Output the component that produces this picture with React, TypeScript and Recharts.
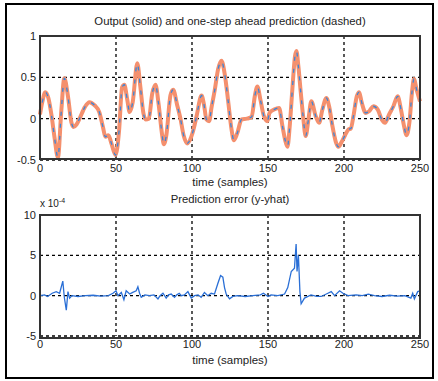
import { CartesianGrid, Line, LineChart, XAxis, YAxis } from "recharts";

// sample index and measured output y (solid) / one-step prediction (dashed, visually identical)
const outT = [
  0, 1.5, 3.5, 5.5, 7.5, 9.5, 11.8, 14, 16, 18.4, 20.6, 22, 24, 26, 29.5, 32.5, 36, 39, 41.4, 43, 45,
  47, 49.7, 52, 54, 55.5, 57.4, 59, 61, 64, 66, 68, 69.5, 71.6, 73.8, 76, 78, 80.3, 81.5, 83.2, 85.8,
  87.6, 90.3, 92.4, 94.6, 96.8, 99.5, 101, 103, 106.3, 107.8, 109.5, 111.3, 112.8, 115, 117.2, 119.4,
  121.6, 123.8, 126, 127.5, 129.7, 132.6, 136, 139.2, 141.4, 143, 145, 147.3, 149.6, 151, 154, 157.3,
  159.5, 161.3, 162.8, 164.3, 166, 167.8, 168.7, 170, 171.6, 173.1, 174.8, 176.6, 178.5, 181.4, 183.6,
  185.8, 188.4, 190.2, 192.4, 194.6, 196.3, 198.5, 200.7, 203, 204.5, 206.2, 208.4, 210, 211.6, 214.3,
  216.5, 219.3, 222.2, 224.8, 227, 229.6, 232.5, 235.3, 237.5, 239.5, 241.2, 243, 244.9, 246, 247.8, 250,
];
const outY = [
  0.05, 0.2, 0.32, 0.25, 0.05, -0.22, -0.47, 0.09, 0.49, 0.27, -0.04, -0.1, -0.07, 0.0, 0.14, 0.2, 0.16,
  0.08, -0.1, -0.22, -0.2, -0.3, -0.44, -0.15, 0.38, 0.41, 0.23, 0.08, 0.2, 0.67, 0.39, 0.07, -0.01, 0.0,
  0.3, 0.41, 0.18, -0.19, -0.31, -0.19, 0.28, 0.35, 0.16, 0.0, -0.21, -0.3, -0.22, -0.13, 0.03, 0.28,
  0.18, -0.01, -0.03, 0.13, 0.35, 0.6, 0.7, 0.53, 0.21, -0.13, -0.26, -0.18, -0.01, 0.0, 0.02, 0.28,
  0.39, 0.23, 0.03, -0.03, 0.07, 0.11, 0.13, -0.09, -0.26, -0.34, -0.09, 0.35, 0.76, 0.82, 0.63, 0.31,
  0.03, -0.21, -0.01, 0.21, 0.03, -0.05, 0.11, 0.25, 0.15, -0.09, -0.28, -0.34, -0.28, -0.2, -0.13,
  -0.12, 0.03, 0.27, 0.32, 0.2, 0.07, 0.09, 0.15, 0.11, -0.01, -0.05, 0.05, 0.15, 0.27, 0.11, -0.09,
  -0.2, -0.05, 0.35, 0.48, 0.35, 0.21,
];

// prediction error, in units of 1e-4
const errT = [
  0, 3, 5, 8, 10.7, 12.9, 15, 16, 17.3, 18.4, 19.5, 21, 25, 30, 35, 40, 45, 48, 50, 51.3, 53.5, 55.2,
  56.7, 59, 61, 63.3, 64.4, 65.5, 66.6, 69, 72, 75, 77.6, 79, 80.9, 83, 84.5, 86.3, 88.5, 90, 91.6, 93,
  95, 97.3, 99.5, 101.7, 104, 106, 108.2, 110.4, 112.6, 114.8, 117, 118.8, 120.3, 121.4, 122.5, 124.7,
  126.9, 130, 135, 140, 145, 147, 150, 152, 156.5, 160.9, 163, 165.3, 167.4, 168.5, 169.1, 170, 171,
  171.8, 174, 178.3, 182, 185, 189.4, 191.6, 193.8, 197.1, 199.3, 202.6, 208, 212, 216, 220, 225, 230,
  235, 240, 244, 245.2, 246.3, 248.5, 250,
];
const errY = [
  0, 0.1, -0.1, 0.3, 0.5, 0.3, 1.8, -0.2, -1.8, 0.5, -0.3, 0, -0.1, 0, 0.05, -0.05, 0, 0.3, 0.6, 0, 0.4,
  -0.5, 0.6, 0.2, 0.4, 0.6, 1.1, 0.3, -0.2, 0.1, 0, 0.1, -0.4, 0, 0.3, -0.3, 0.1, 0.2, -0.2, 0.1, 0.3, 0,
  0.1, 0.5, -0.3, 0, 0.1, -0.2, 0.4, 0, 0.3, 0.2, 1.5, 2.5, 2.3, 1.0, 0.2, -0.4, -0.1, 0, -0.1, 0, 0.1,
  0.3, -0.1, 0.1, 0, 0.2, 1.0, 3.0, 3.4, 6.4, 3, 5, 0.5, -1.0, -0.3, 0.1, -0.1, -0.1, 0.3, 0.5, 0, 0.6,
  0.3, 0, 0.1, 0, 0.2, 0, -0.1, 0.05, -0.05, 0, -0.3, 0.3, -0.4, 0.5, 0.6,
];

const xTicks = [0, 50, 100, 150, 200, 250];
const topTicks = [-0.5, 0, 0.5, 1];
const botTicks = [-5, 0, 5, 10];

const outData = outT.map((t, i) => ({ t, y: outY[i] }));
const errData = errT.map((t, i) => ({ t, e: errY[i] }));

const font = "'Liberation Sans', Arial, sans-serif";
const tickStyle = { fontSize: 11, fill: "#222", fontFamily: font };

const abs = (left: number, top: number, extra: object = {}) => ({
  position: "absolute" as const,
  left,
  top,
  ...extra,
});

function Frame({ top }: { top: number }) {
  return (
    <div
      style={abs(39, top - 1, {
        width: 382,
        height: 125,
        border: "2px solid #333",
        boxSizing: "border-box",
        pointerEvents: "none",
      })}
    />
  );
}

export default function App() {
  return (
    <div
      style={{
        position: "absolute",
        left: 0,
        top: 0,
        width: 438,
        height: 381,
        background: "#fff",
        fontFamily: font,
        color: "#222",
      }}
    >
      <div
        style={abs(5, 3, {
          width: 429,
          height: 376,
          border: "2px solid #000",
          boxSizing: "border-box",
        })}
      />

      <div style={abs(0, 15, { width: 460, textAlign: "center", fontSize: 11.3 })}>
        Output (solid) and one-step ahead prediction (dashed)
      </div>
      <div style={abs(0, 0)}>
        <LineChart
          width={438}
          height={190}
          data={outData}
          margin={{ top: 36, right: 18, left: 10, bottom: 0 }}
        >
          <CartesianGrid stroke="#000" strokeDasharray="3 3" strokeWidth={1.3} />
          <XAxis
            dataKey="t"
            type="number"
            domain={[0, 250]}
            ticks={xTicks}
            height={30}
            tickSize={0}
            tickMargin={4}
            axisLine={false}
            tick={tickStyle}
          />
          <YAxis
            type="number"
            domain={[-0.5, 1]}
            ticks={topTicks}
            width={30}
            tickSize={0}
            tickMargin={4}
            axisLine={false}
            allowDataOverflow
            tick={tickStyle}
          />
          <Line
            dataKey="y"
            type="monotone"
            stroke="#F4906E"
            strokeWidth={4}
            dot={false}
            isAnimationActive={false}
          />
          <Line
            dataKey="y"
            type="monotone"
            stroke="#3A86DA"
            strokeWidth={1.3}
            strokeDasharray="4 8"
            dot={false}
            isAnimationActive={false}
          />
        </LineChart>
      </div>
      <div style={abs(0, 176, { width: 460, textAlign: "center", fontSize: 11.5 })}>
        time (samples)
      </div>

      <div style={abs(0, 193, { width: 460, textAlign: "center", fontSize: 11.3 })}>
        Prediction error (y-yhat)
      </div>
      <div style={abs(40, 197, { fontSize: 10 })}>
        x 10<sup style={{ fontSize: 7 }}>-4</sup>
      </div>
      <div style={abs(0, 190)}>
        <LineChart
          width={438}
          height={176}
          data={errData}
          margin={{ top: 25, right: 18, left: 10, bottom: 0 }}
        >
          <CartesianGrid stroke="#000" strokeDasharray="3 3" strokeWidth={1.3} />
          <XAxis
            dataKey="t"
            type="number"
            domain={[0, 250]}
            ticks={xTicks}
            height={30}
            tickSize={0}
            tickMargin={4}
            axisLine={false}
            tick={tickStyle}
          />
          <YAxis
            type="number"
            domain={[-5, 10]}
            ticks={botTicks}
            width={30}
            tickSize={0}
            tickMargin={4}
            axisLine={false}
            allowDataOverflow
            tick={tickStyle}
          />
          <Line
            dataKey="e"
            type="linear"
            stroke="#2A6FD6"
            strokeWidth={1.3}
            dot={false}
            isAnimationActive={false}
          />
        </LineChart>
      </div>
      <div style={abs(0, 354, { width: 460, textAlign: "center", fontSize: 11.5 })}>
        time (samples)
      </div>

      <Frame top={36} />
      <Frame top={215} />
    </div>
  );
}
